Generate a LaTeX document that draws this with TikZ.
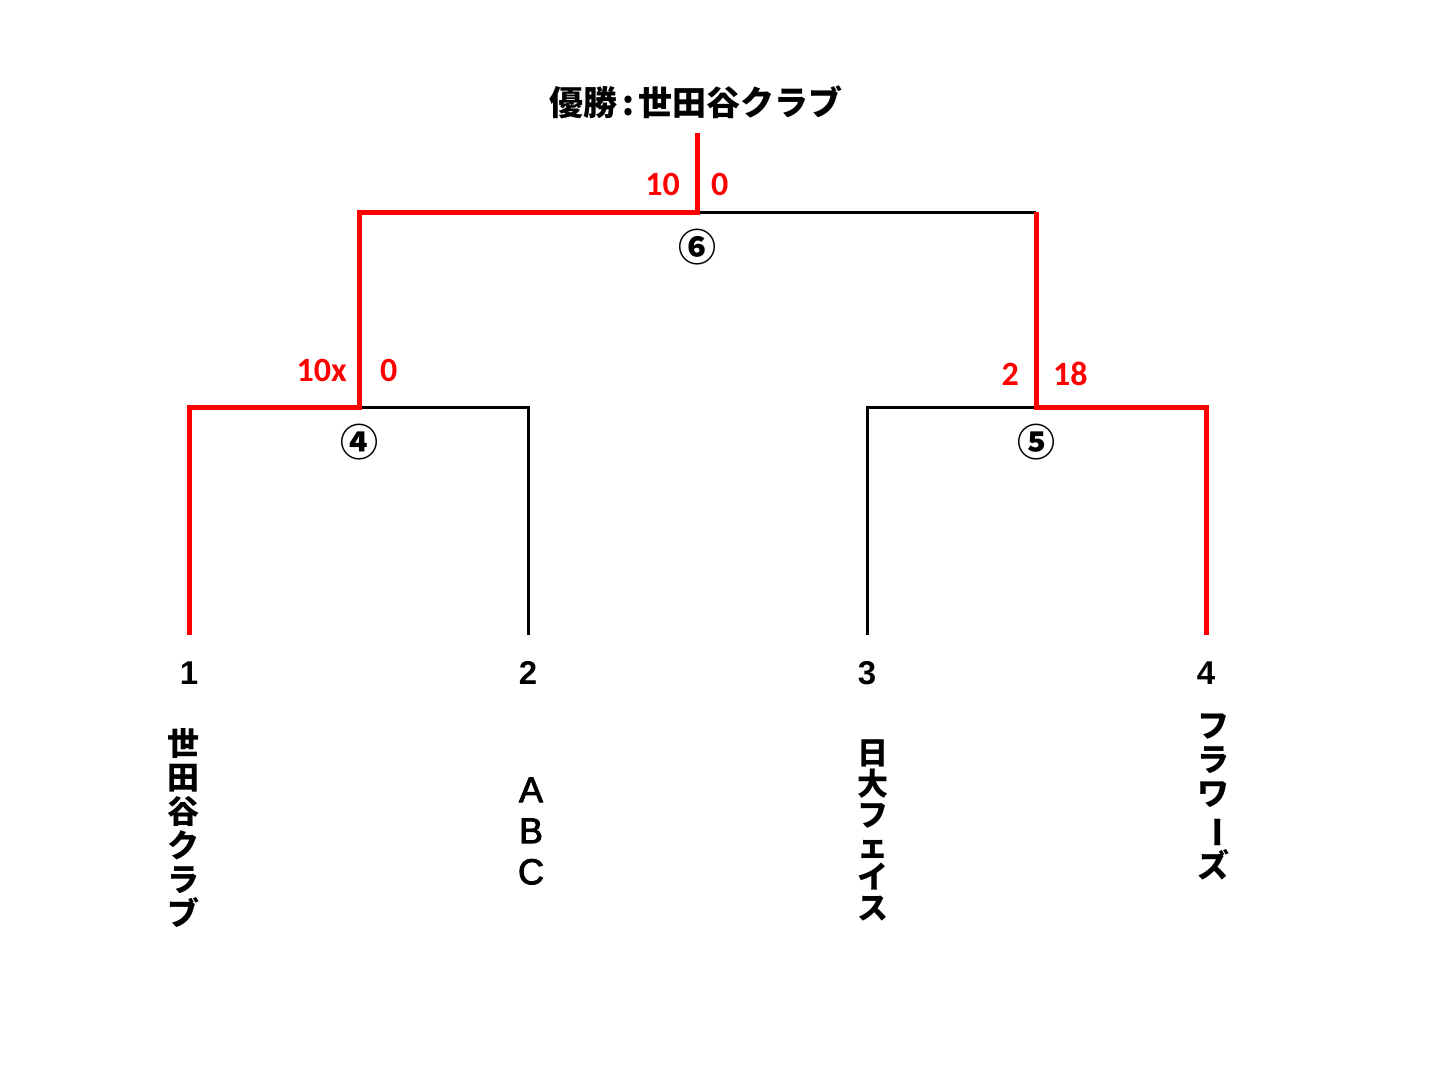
\documentclass[tikz,border=0pt]{standalone}
\usepackage{fontspec}
\newfontfamily\jp{Noto Sans CJK JP}
\newfontfamily\scorefont{Carlito}
\newfontfamily\numfont{Liberation Sans}
\newfontfamily\abcfont[FakeBold=2.5]{Liberation Sans}
\begin{document}
\begin{tikzpicture}[x=1pt,y=-1pt,
  winline/.style={draw=red, line width=5pt, line join=miter, line cap=butt},
  plainline/.style={draw=black, line width=3pt, line join=miter, line cap=butt},
  score/.style={text=red, font=\scorefont\bfseries\fontsize{34}{34}\selectfont, inner sep=0pt},
  matchno/.style={font=\jp\bfseries\fontsize{38}{38}\selectfont, inner sep=0pt},
  seed/.style={font=\numfont\bfseries\fontsize{33}{33}\selectfont, inner sep=0pt},
  title/.style={font=\jp\bfseries\fontsize{34}{34}\selectfont, inner sep=0pt},
  team/.style={font=\jp\bfseries\fontsize{32}{34}\selectfont, inner sep=0pt, align=center},
]
\useasboundingbox (0,0) rectangle (1440,1080);
\fill[white] (0,0) rectangle (1440,1080);
% junction coordinates
\coordinate (b1) at (189,635);
\coordinate (t1) at (189,407);
\coordinate (b2) at (528,635);
\coordinate (t2) at (528,407);
\coordinate (b3) at (867,635);
\coordinate (t3) at (867,407);
\coordinate (b4) at (1206,635);
\coordinate (t4) at (1206,407);
\coordinate (m4) at (359,407);
\coordinate (m4t) at (359,212);
\coordinate (m5) at (1036,407);
\coordinate (m5t) at (1036,212);
\coordinate (m6) at (697,212);
\coordinate (top) at (697,133);
% losing paths
\draw[plainline] (m4) -- (t2) -- (b2);
\draw[plainline] (b3) -- (t3) -- (m5);
\draw[plainline] (m6) -- (m5t);
% winning paths
\draw[winline] (b1) -- (t1) -- (m4) -- (m4t) -- (m6) -- (top);
\draw[winline] (b4) -- (t4) -- (m5) -- (m5t);
% title
\node[title] (champ) at (696,102) {優勝\kern5pt:\kern5pt世田谷クラブ};
% scores
\node[score, anchor=east] (s6l) at (680,184) {10};
\node[score, anchor=west] (s6r) at (711,184) {0};
\node[score, anchor=east] (s4l) at (347,370) {10x};
\node[score, anchor=west] (s4r) at (380,370) {0};
\node[score, anchor=east] (s5l) at (1019,374) {2};
\node[score, anchor=west] (s5r) at (1053,374) {18};
% match numbers
\node[matchno] (n6) at (697,247) {⑥};
\node[matchno] (n4) at (359,442) {④};
\node[matchno] (n5) at (1036,442) {⑤};
% seeds
\node[seed] (p1) at (189,673) {1};
\node[seed] (p2) at (528,673) {2};
\node[seed] (p3) at (867,673) {3};
\node[seed] (p4) at (1206,673) {4};
% team names (vertical)
\node[team] (team1) at (183,828) {世\\田\\谷\\ク\\ラ\\ブ};
\node[team, font=\abcfont\fontsize{36}{41}\selectfont] (team2) at (531,831) {A\\B\\C};
\node[team, font=\jp\bfseries\fontsize{31}{31}\selectfont] (team3) at (873,830) {日\\大\\フ\\ェ\\イ\\ス};
\node[team] (team4) at (1213,797) {フ\\ラ\\ワ\\\rotatebox[origin=c]{-90}{ー}\\ズ};
\end{tikzpicture}
\end{document}
